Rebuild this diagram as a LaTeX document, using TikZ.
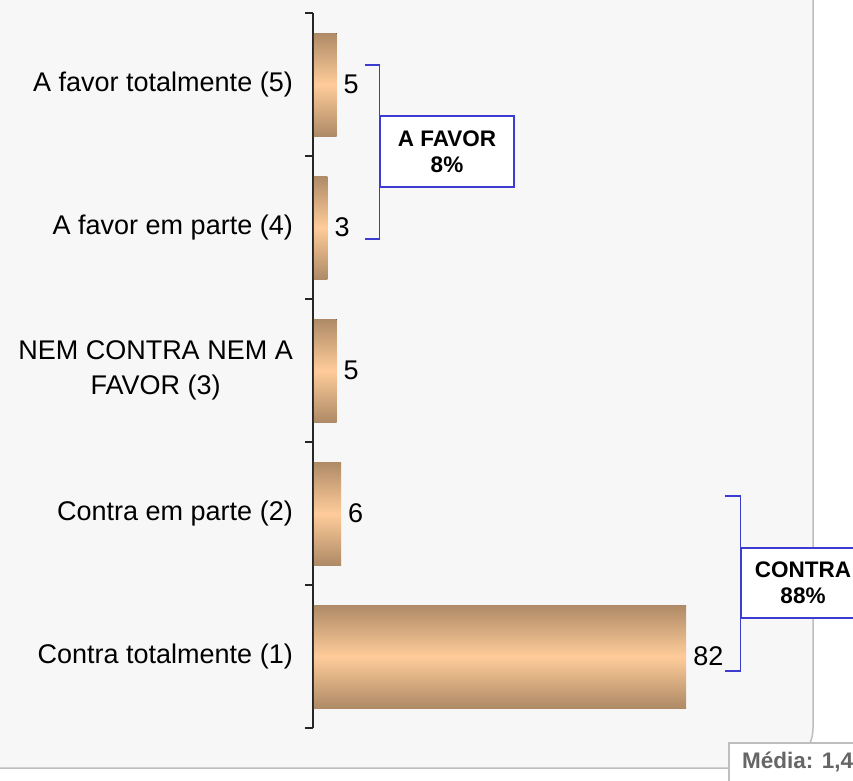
\documentclass[tikz,border=0pt]{standalone}
\usepackage{fontspec}
\setmainfont{Liberation Sans}
\usepackage{tikz}

\definecolor{panelfill}{RGB}{247,247,247}
\definecolor{panelline}{RGB}{190,190,190}
\definecolor{bardark}{RGB}{174,138,102}
\definecolor{barlight}{RGB}{255,204,153}
\definecolor{brackblue}{RGB}{60,60,210}
\definecolor{meangray}{RGB}{102,102,102}

\begin{document}
\begin{tikzpicture}[x=1pt,y=-1pt]

\tikzstyle{every node}+=[inner sep=0pt]
\tikzstyle{bar}=[top color=bardark, bottom color=bardark, middle color=barlight, draw=none]
\tikzstyle{cat}=[anchor=east, align=center, font=\fontsize{27}{35}\selectfont]
\tikzstyle{val}=[anchor=west, font=\fontsize{27}{31}\selectfont]
\tikzstyle{bracket}=[brackblue, line width=1.3pt]
\tikzstyle{groupbox}=[draw=brackblue, line width=1.3pt, fill=white, align=center, font=\fontsize{22.5}{26}\selectfont\bfseries]

\useasboundingbox (0,0) rectangle (853,780);
\clip (0,0) rectangle (853,780);
\fill [white] (0,0) rectangle (853,780);

% panel
\draw [panelline, fill=panelfill, line width=1.5pt, rounded corners=40pt] (-80,-80) rectangle (813,768);

% axis and ticks
\draw [black!85, line width=1.5pt] (313,13) -- (313,728);
\foreach \t in {0,...,5}
  \draw [black!85, line width=1.5pt] (305,13+143*\t) -- (313,13+143*\t);

% bars
\foreach \v/\k/\txt in {5/0/A favor totalmente (5), 3/1/A favor em parte (4), 5/2/NEM CONTRA NEM A\\FAVOR (3), 6/3/Contra em parte (2), 82/4/Contra totalmente (1)} {
  \fill [bar] (313.8,84.5+143*\k-51.5) rectangle (313.8+4.54*\v,84.5+143*\k+51.5);
  \node (bar\k) at (313.8+4.54*\v,84.5+143*\k) {};
  \node [val] (val\k) at ([xshift=7pt]bar\k) {\v};
  \node [cat] (cat\k) at (293,84.5+143*\k) {\txt};
}

% A FAVOR bracket
\node [groupbox, minimum width=134pt, minimum height=71pt] (favor) at (447,151.5) {A FAVOR\\8\%};
\coordinate (favtop) at (365,65);
\coordinate (favbot) at (365,239);
\draw [bracket] (favtop) -| (favor.west) |- (favbot);

% CONTRA bracket
\node [groupbox, minimum width=124pt, minimum height=70pt] (contra) at (803,583) {CONTRA\\88\%};
\coordinate (contop) at (725,496);
\coordinate (conbot) at (725,671);
\draw [bracket] (contop) -| (contra.west) |- (conbot);

% mean box
\node [draw=panelline, line width=1.5pt, fill=white, anchor=north west, minimum width=160pt, minimum height=60pt] (meanbox) at (728,742) {};
\node [anchor=west, text=meangray, font=\fontsize{22.5}{26}\selectfont\bfseries] (mean) at (742,762) {Média: 1,4};

\end{tikzpicture}
\end{document}
